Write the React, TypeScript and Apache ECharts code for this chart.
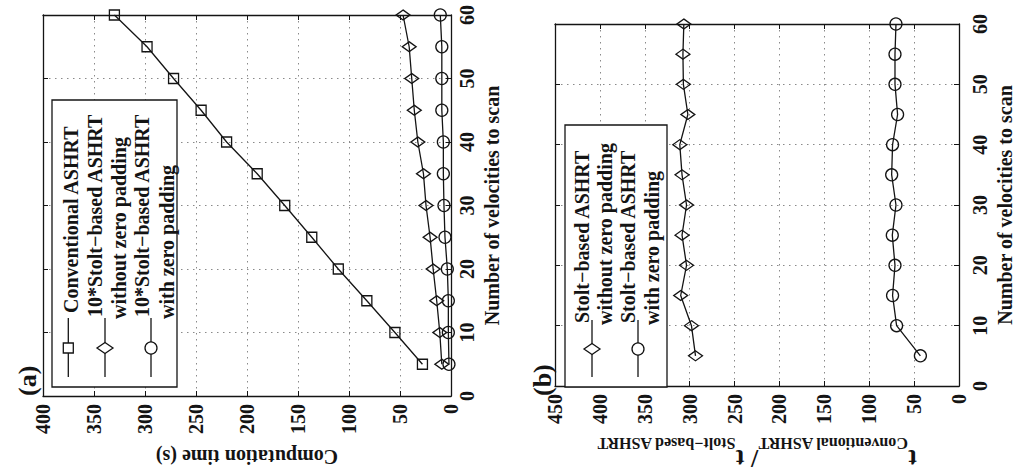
import React, { useEffect, useRef } from "react";
import * as echarts from "echarts";

// Number of velocities scanned (shared by both panels)
const velocities = [5, 10, 15, 20, 25, 30, 35, 40, 45, 50, 55, 60];

// Panel (a): computation time in seconds
const conventionalTime = [28, 55, 82.5, 110.5, 136.5, 163, 190, 220, 245, 272, 298, 330];
const stoltNoPadTimes10 = [9, 11, 14, 17.5, 20.5, 24.5, 27, 32.5, 36, 38.5, 41, 47];
const stoltPadTimes10 = [2, 2.6, 2.6, 3.6, 5.9, 6.9, 7.5, 7.5, 9, 9, 9, 10.5];

// Panel (b): speed-up ratio t_conventional / t_stolt
const speedupNoPad = [293.5, 298, 310, 303.5, 308.5, 303.5, 308.5, 311, 302, 307, 307.5, 306.5];
const speedupPad = [43, 69.5, 74, 71.3, 74.3, 70.2, 75, 74, 68.4, 71.3, 71.3, 70.2];

const legendA = ["Conventional ASHRT", "10*Stolt\u2212based ASHRT", "without zero padding", "10*Stolt\u2212based ASHRT", "with zero padding"];
const legendB = ["Stolt\u2212based ASHRT", "without zero padding", "Stolt\u2212based ASHRT", "with zero padding"];

const FONT = "'Liberation Serif', 'Times New Roman', serif";
const INK = "#141414";

const pairs = (vals: number[]) => vals.map((t, i) => [t, velocities[i]]);

const labelStyle = {
  fontFamily: FONT,
  fontSize: 20,
  fontWeight: "bold" as const,
  color: INK,
};

const gridLine = { show: true, lineStyle: { color: "#8a8a8a", width: 1, type: [1.5, 4.5] } };
const frameLine = { show: true, onZero: false, lineStyle: { color: INK, width: 1.3 } };
const innerTick = { show: true, inside: true, length: 5, lineStyle: { color: INK, width: 1 } };

function timeAxes(gridIndex: number, max: number, name: string, nameExtra: any) {
  return [
    {
      gridIndex,
      type: "value",
      min: 0,
      max,
      interval: 50,
      inverse: true,
      position: "bottom",
      axisLine: frameLine,
      axisTick: innerTick,
      axisLabel: { ...labelStyle, rotate: 90, margin: 8 },
      splitLine: gridLine,
      name,
      nameLocation: "middle",
      nameRotate: 180,
      ...nameExtra,
    },
    {
      gridIndex,
      type: "value",
      min: 0,
      max,
      interval: 50,
      inverse: true,
      position: "top",
      axisLine: frameLine,
      axisTick: innerTick,
      axisLabel: { show: false },
      splitLine: { show: false },
    },
  ];
}

function velocityAxes(gridIndex: number, margin: number, nameGap: number) {
  return [
    {
      gridIndex,
      type: "value",
      min: 0,
      max: 60,
      interval: 10,
      position: "right",
      axisLine: frameLine,
      axisTick: innerTick,
      axisLabel: { ...labelStyle, rotate: 90, margin },
      splitLine: gridLine,
      name: "Number of velocities to scan",
      nameLocation: "middle",
      nameRotate: 90,
      nameGap,
      nameTextStyle: { ...labelStyle },
    },
    {
      gridIndex,
      type: "value",
      min: 0,
      max: 60,
      interval: 10,
      position: "left",
      axisLine: frameLine,
      axisTick: innerTick,
      axisLabel: { show: false },
      splitLine: { show: false },
    },
  ];
}

function lineSeries(axisIndex: number, vals: number[], symbol: string, size: any) {
  return {
    type: "line",
    xAxisIndex: axisIndex,
    yAxisIndex: axisIndex,
    data: pairs(vals),
    symbol,
    symbolSize: size,
    showAllSymbol: true,
    clip: false,
    itemStyle: { color: "rgba(255,255,255,0)", borderColor: INK, borderWidth: 1.3 },
    lineStyle: { color: INK, width: 1.3 },
  };
}

function vText(text: string, x: number, y: number, size = 20): any {
  return {
    type: "text",
    x,
    y,
    rotation: Math.PI / 2,
    z: 110,
    style: {
      text,
      fill: INK,
      font: `bold ${size}px ${FONT}`,
      fontFamily: FONT,
      fontSize: size,
      fontWeight: "bold",
      textAlign: "left",
      textVerticalAlign: "middle",
      align: "left",
      verticalAlign: "middle",
    },
  };
}

const strokeStyle = { stroke: INK, lineWidth: 1.3 };

function keyLine(x: number, y1: number, y2: number): any {
  return { type: "line", z: 105, shape: { x1: x, y1, x2: x, y2 }, style: { stroke: INK, lineWidth: 1.3 } };
}

function diamondKey(cx: number, cy: number): any {
  return {
    type: "polygon",
    z: 106,
    shape: { points: [[cx, cy - 5.5], [cx + 8, cy], [cx, cy + 5.5], [cx - 8, cy]] },
    style: { ...strokeStyle, fill: "#fff" },
  };
}

function circleKey(cx: number, cy: number): any {
  return { type: "circle", z: 106, shape: { cx, cy, r: 6 }, style: { ...strokeStyle, fill: "#fff" } };
}

function squareKey(cx: number, cy: number): any {
  return { type: "rect", z: 106, shape: { x: cx - 5, y: cy - 5, width: 10, height: 10 }, style: { ...strokeStyle, fill: "#fff" } };
}

function legendBox(x: number, y: number, w: number, h: number): any {
  return { type: "rect", z: 100, shape: { x, y, width: w, height: h }, style: { stroke: INK, lineWidth: 1.3, fill: "#fff" } };
}

export default function App() {
  const ref = useRef<HTMLDivElement>(null);

  useEffect(() => {
    if (!ref.current) return;
    const chart = echarts.init(ref.current, undefined, { renderer: "svg" });

    const option: any = {
      animation: false,
      backgroundColor: "#fff",
      grid: [
        { left: 43, top: 15, width: 408, height: 381 },
        { left: 555, top: 24, width: 408, height: 373 },
      ],
      xAxis: [
        ...timeAxes(0, 400, "Computation time (s)", {
          nameGap: 51,
          nameTextStyle: { ...labelStyle },
        }),
        ...timeAxes(1, 450, "{t|t}{s|Conventional ASHRT}{t|/ t}{s|Stolt\u2212based ASHRT}", {
          nameGap: 29,
          nameTextStyle: {
            ...labelStyle,
            rich: {
              t: { fontFamily: FONT, fontSize: 26, fontWeight: "bold", color: INK, lineHeight: 24, verticalAlign: "top" },
              s: { fontFamily: FONT, fontSize: 16, fontWeight: "bold", color: INK, lineHeight: 56 },
            },
          },
        }),
      ],
      yAxis: [...velocityAxes(0, 6, 31), ...velocityAxes(1, 11, 36)],
      series: [
        lineSeries(0, conventionalTime, "rect", 10),
        lineSeries(0, stoltNoPadTimes10, "diamond", [14, 10]),
        lineSeries(0, stoltPadTimes10, "circle", 12),
        lineSeries(2, speedupNoPad, "diamond", [14, 10]),
        lineSeries(2, speedupPad, "circle", 12),
      ],
      graphic: [
        // panel tags
        vText("(a)", 27, 396, 26),
        vText("(b)", 542, 396, 26),
        // legend of panel (a)
        legendBox(52, 100, 125, 287),
        keyLine(68.3, 318, 377),
        squareKey(68.3, 348),
        keyLine(105, 318, 377),
        diamondKey(105, 348),
        keyLine(151, 318, 377),
        circleKey(151, 348),
        vText(legendA[0], 70.5, 313),
        vText(legendA[1], 95, 317),
        vText(legendA[2], 118.5, 319),
        vText(legendA[3], 142, 317),
        vText(legendA[4], 166.5, 319),
        // legend of panel (b)
        legendBox(565, 125, 102, 262),
        keyLine(592, 320, 377),
        diamondKey(592, 349),
        keyLine(638, 320, 377),
        circleKey(638, 349),
        vText(legendB[0], 581.5, 323),
        vText(legendB[1], 605, 325),
        vText(legendB[2], 628, 323),
        vText(legendB[3], 651.5, 325),
      ],
    };

    chart.setOption(option);
    return () => chart.dispose();
  }, []);

  return (
    <div
      ref={ref}
      style={{ position: "absolute", left: 0, top: 0, width: 1016, height: 476, background: "#fff" }}
    />
  );
}
